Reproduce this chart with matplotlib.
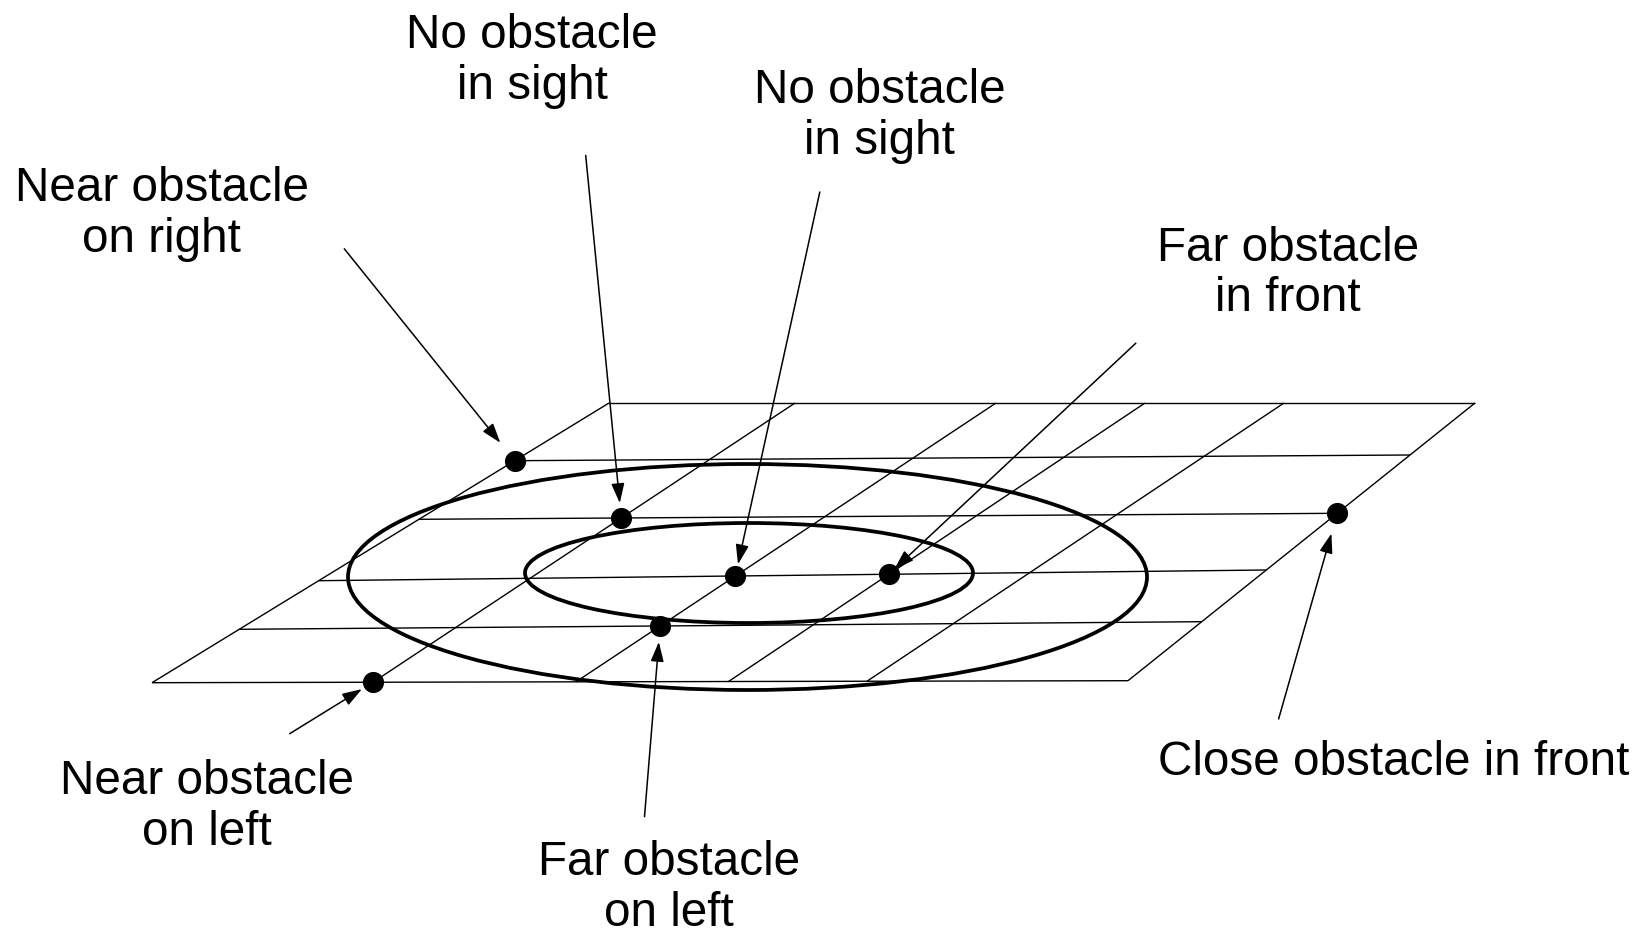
import matplotlib
matplotlib.use("Agg")
import matplotlib.pyplot as plt
from matplotlib.patches import Ellipse
import numpy as np

# ---- grid geometry (pixel space of the drawing) ----
corner_tl = (609, 403)
corner_tr = (1475, 403)
corner_bl = (152, 682.7)
corner_br = (1128, 680.7)
# column positions along top and bottom edges (x)
col_top_x = [609, 795, 996, 1145, 1284, 1475]
col_bot_x = [152, 373, 576, 728.5, 867, 1128]
# row positions along left and right edges (y)
row_left_y = [403, 460.7, 519.3, 580.7, 629.3, 682.7]
row_right_y = [403, 455.0, 513.3, 570.0, 621.7, 680.7]

# ellipses: centre x, centre y, width, height
ellipse_cx = [747.5, 749]
ellipse_cy = [577, 573]
ellipse_w = [799, 448]
ellipse_h = [226, 100]

# labelled points: (column index, row index)
labels = ["Near obstacle\non right", "No obstacle\nin sight", "No obstacle\nin sight",
          "Far obstacle\nin front", "Close obstacle in front", "Far obstacle\non left",
          "Near obstacle\non left"]
point_col = [0, 1, 2, 3, 5, 2, 1]
point_row = [1, 2, 3, 3, 2, 4, 5]
text_x = [161.7, 532, 879.6, 1288, 1394, 668.7, 206.8]
text_y = [213.7, 61.4, 116.0, 273.5, 762.2, 887.7, 806.7]
arrow_start_x = [344.3, 585.7, 819.8, 1135.8, 1278.6, 644.5, 289.7]
arrow_start_y = [248.8, 155.4, 192.0, 343.2, 719.0, 816.7, 733.7]
arrow_gap_px = [23, 15, 12, 7.5, 21, 16, 13]


def edge_point(p0, p1, y):
    t = (y - p0[1]) / (p1[1] - p0[1])
    return (p0[0] + t * (p1[0] - p0[0]), y)


def top_bottom_point(p0, p1, x):
    t = (x - p0[0]) / (p1[0] - p0[0])
    return (x, p0[1] + t * (p1[1] - p0[1]))


def row_line(i):
    a = edge_point(corner_tl, corner_bl, row_left_y[i])
    b = edge_point(corner_tr, corner_br, row_right_y[i])
    return a, b


def col_line(j):
    a = top_bottom_point(corner_tl, corner_tr, col_top_x[j])
    b = top_bottom_point(corner_bl, corner_br, col_bot_x[j])
    return a, b


def intersect(l1, l2):
    (x1, y1), (x2, y2) = l1
    (x3, y3), (x4, y4) = l2
    d = (x1 - x2) * (y3 - y4) - (y1 - y2) * (x3 - x4)
    px = ((x1 * y2 - y1 * x2) * (x3 - x4) - (x1 - x2) * (x3 * y4 - y3 * x4)) / d
    py = ((x1 * y2 - y1 * x2) * (y3 - y4) - (y1 - y2) * (x3 * y4 - y3 * x4)) / d
    return px, py


W, H = 1646, 930
fig = plt.figure(figsize=(W / 100, H / 100), dpi=100)
ax = fig.add_axes([0, 0, 1, 1])
ax.set_xlim(0, W)
ax.set_ylim(H, 0)
ax.axis("off")

grid_lw = 1.0
for i in range(len(row_left_y)):
    (xa, ya), (xb, yb) = row_line(i)
    ax.plot([xa, xb], [ya, yb], color="black", lw=grid_lw, solid_capstyle="butt", zorder=1)
for j in range(len(col_top_x)):
    (xa, ya), (xb, yb) = col_line(j)
    ax.plot([xa, xb], [ya, yb], color="black", lw=grid_lw, solid_capstyle="butt", zorder=1)

for cx, cy, w, h in zip(ellipse_cx, ellipse_cy, ellipse_w, ellipse_h):
    ax.add_patch(Ellipse((cx, cy), w, h, fill=False, edgecolor="black", lw=2.7, zorder=2))

for k, lab in enumerate(labels):
    px, py = intersect(row_line(point_row[k]), col_line(point_col[k]))
    ax.plot([px], [py], marker="o", ms=14.2, color="black", zorder=4)
    ax.annotate("", xy=(px, py), xytext=(arrow_start_x[k], arrow_start_y[k]),
                arrowprops=dict(arrowstyle="-|>,head_length=0.6,head_width=0.2",
                                mutation_scale=20, color="black", lw=1.1,
                                shrinkA=0, shrinkB=arrow_gap_px[k] / 1.389),
                zorder=3)
    ax.text(text_x[k], text_y[k], lab, ha="center", va="center",
            fontsize=34.3, family="Liberation Sans", linespacing=1.17, zorder=5)

fig.savefig("out.png", dpi=100, facecolor="white")
